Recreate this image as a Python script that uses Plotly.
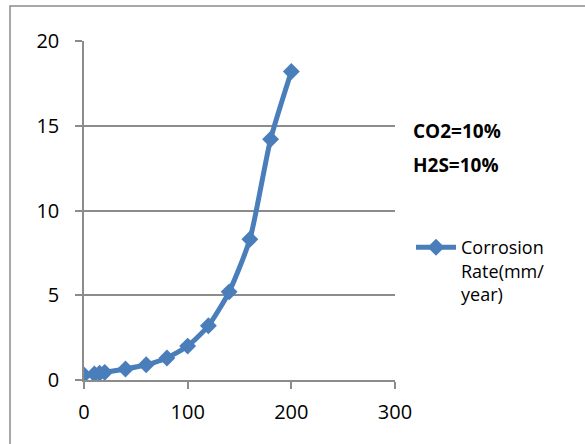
import plotly.graph_objects as go

temperature = [0, 10, 15, 20, 40, 60, 80, 100, 120, 140, 160, 180, 200]
corrosion_rate = [0.3, 0.35, 0.4, 0.45, 0.65, 0.9, 1.3, 2.0, 3.2, 5.2, 8.3, 14.2, 18.2]
series_name = "Corrosion<br>Rate(mm/<br>year)"
notes = ["CO2=10%", "H2S=10%"]

W, H = 585, 444
L, R, T, B = 84, 190, 41, 64
pw, ph = W - L - R, H - T - B

def px_x(p):
    return (p - L) / pw

def px_y(p):
    return (H - B - p) / ph

FONT = "Open Sans"
BLUE = "#4A7EBB"

fig = go.Figure()
fig.add_trace(go.Scatter(
    x=temperature, y=corrosion_rate, name=series_name,
    mode="lines+markers",
    line=dict(color=BLUE, width=5, shape="spline", smoothing=0.6),
    marker=dict(symbol="diamond", size=13, color=BLUE),
))

fig.update_layout(
    width=W, height=H,
    margin=dict(l=L, r=R, t=T, b=B),
    paper_bgcolor="white", plot_bgcolor="white",
    font=dict(family=FONT, size=20, color="#000000"),
    showlegend=True,
    legend=dict(x=px_x(411), y=px_y(229), xanchor="left", yanchor="top",
                valign="top", font=dict(family=FONT, size=18, color="#000000"),
                bgcolor="rgba(0,0,0,0)", itemwidth=40, tracegroupgap=0),
    xaxis=dict(range=[0, 300], tickvals=[0, 100, 200, 300],
               showgrid=False, zeroline=False, showline=True,
               linecolor="#8C8C8C", linewidth=1.5,
               ticks="outside", ticklen=7, tickcolor="#8C8C8C", tickwidth=1.5,
               ticklabelstandoff=6,
               tickfont=dict(family=FONT, size=20, color="#000000")),
    yaxis=dict(range=[0, 20], tickvals=[0, 5, 10, 15, 20],
               showgrid=True, gridcolor="#8C8C8C", gridwidth=1.5,
               zeroline=False, showline=True,
               linecolor="#8C8C8C", linewidth=1.5,
               ticks="outside", ticklen=7, tickcolor="#8C8C8C", tickwidth=1.5,
               ticklabelstandoff=12,
               tickfont=dict(family=FONT, size=20, color="#000000")),
)

fig.add_shape(type="rect", xref="paper", yref="paper",
              x0=px_x(10), x1=px_x(620), y0=px_y(480), y1=px_y(6),
              line=dict(color="#8C8C8C", width=1.5), layer="below")

for txt, yc in zip(notes, [131, 165]):
    fig.add_annotation(text="<b>" + txt + "</b>", xref="paper", yref="paper",
                       x=px_x(411), y=px_y(yc), xanchor="left", yanchor="middle",
                       showarrow=False, font=dict(family=FONT, size=19, color="#000000"))

fig.write_html("out.html")
